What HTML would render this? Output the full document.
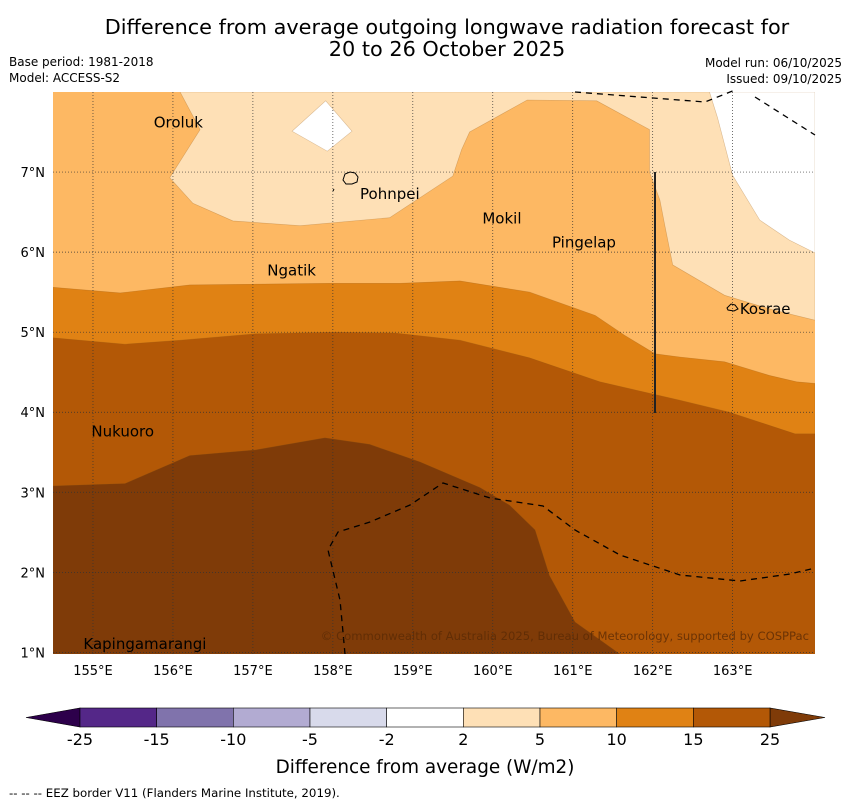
<!DOCTYPE html>
<html><head><meta charset="utf-8"><style>
body{margin:0;background:#fff;font-family:"DejaVu Sans","Liberation Sans",sans-serif}
svg{display:block}
</style></head><body>
<svg id="chart" width="850" height="804" viewBox="0 0 850 804" xmlns="http://www.w3.org/2000/svg" font-family="DejaVu Sans, Liberation Sans, sans-serif">
<defs><clipPath id="plotclip"><rect x="53" y="92" width="762" height="562"/></clipPath></defs>
<text x="447" y="34" text-anchor="middle" font-size="20.8">Difference from average outgoing longwave radiation forecast for</text>
<text x="447" y="56" text-anchor="middle" font-size="20.8">20 to 26 October 2025</text>
<text x="9" y="66" font-size="12">Base period: 1981-2018</text>
<text x="9" y="82" font-size="12">Model: ACCESS-S2</text>
<text x="842" y="67" font-size="12" text-anchor="end">Model run: 06/10/2025</text>
<text x="842" y="83" font-size="12" text-anchor="end">Issued: 09/10/2025</text>
<g id="plot" clip-path="url(#plotclip)"></g>
<g id="overlay"></g>
<g id="axes"></g>
<g id="cbar"></g>
<text x="425" y="773" text-anchor="middle" font-size="18.4">Difference from average (W/m2)</text>
<text x="9" y="797" font-size="11.8">--  --  -- EEZ border V11 (Flanders Marine Institute, 2019).</text>
</svg>
<script>
// Contour boundaries in lon/lat
const lon0=154.5, lon1=164.03, lat0=0.98, lat1=8.0;
const lonTicks=[155,156,157,158,159,160,161,162,163];
const latTicks=[1,2,3,4,5,6,7];
const cbarLevels=["-25","-15","-10","-5","-2","2","5","10","15","25"];
const cbarColors=["#542788","#8073ac","#b2abd2","#d8daeb","#ffffff","#fee0b6","#fdb863","#e08214","#b35806"];
const level5=[[156.09,8.0],[156.34,7.53],[155.96,6.93],[156.25,6.61],[156.75,6.39],[157.59,6.33],[158.71,6.43],[159.5,6.95],[159.61,7.28],[159.71,7.5],[160.43,7.9],[161.3,7.89],[161.96,7.53],[161.96,7.0],[162.09,6.65],[162.15,6.34],[162.25,5.84],[162.9,5.46],[163.5,5.28],[164.03,5.15],[164.03,8.0]];
const level2a=[[162.71,8.0],[162.81,7.68],[163.0,6.96],[163.34,6.4],[163.71,6.15],[164.03,5.99],[164.03,8.0]];
const level2b=[[157.49,7.51],[157.91,7.89],[158.24,7.51],[157.93,7.26]];
const level10=[[154.5,5.56],[155.34,5.49],[156.21,5.59],[157.96,5.61],[158.84,5.61],[159.59,5.64],[160.46,5.5],[161.28,5.21],[161.65,4.96],[162.03,4.73],[162.34,4.69],[162.9,4.63],[163.46,4.46],[163.8,4.38],[164.03,4.36],[164.03,0.98],[154.5,0.98]];
const level15=[[154.5,4.93],[155.4,4.85],[156.09,4.9],[157.03,4.98],[158.03,5.0],[158.78,4.99],[159.59,4.9],[160.46,4.68],[161.34,4.38],[162.34,4.15],[162.96,4.0],[163.78,3.73],[164.03,3.73],[164.03,0.98],[154.5,0.98]];
const level25=[[154.5,3.08],[155.4,3.11],[156.21,3.46],[157.03,3.53],[157.9,3.68],[158.46,3.6],[159.09,3.38],[159.84,3.06],[160.21,2.84],[160.53,2.53],[160.71,1.96],[161.03,1.38],[161.59,0.98],[154.5,0.98]];
const islands=[["Oroluk",155.76,7.63],["Pohnpei",158.34,6.74],["Mokil",159.87,6.43],["Pingelap",160.74,6.13],["Ngatik",157.18,5.78],["Kosrae",163.09,5.3],["Nukuoro",154.98,3.77],["Kapingamarangi",154.88,1.12]];

const NS="http://www.w3.org/2000/svg";
const X=l=>53+(l-lon0)/(lon1-lon0)*762;
const Y=l=>654-(l-lat0)/(lat1-lat0)*562;
function mk(tag,attrs,parent){const e=document.createElementNS(NS,tag);for(const k in attrs)e.setAttribute(k,attrs[k]);parent.appendChild(e);return e;}
const plot=document.getElementById('plot'),ov=document.getElementById('overlay'),axes=document.getElementById('axes'),cb=document.getElementById('cbar');
const pts=a=>a.map(p=>X(p[0]).toFixed(1)+','+Y(p[1]).toFixed(1)).join(' ');

let bg=mk('rect',{x:53,y:92,width:762,height:562,fill:'#fdb863'},plot);


const bands=[[level5,'#fee0b6','band-2-5'],[level2a,'#ffffff','band-white-east'],[level2b,'#ffffff','band-white-north'],[level10,'#e08214','band-10-15'],[level15,'#b35806','band-15-25'],[level25,'#7f3b08','band-over-25']];
bands.forEach(b=>{
  const p=mk('polygon',{points:pts(b[0]),fill:b[1],stroke:'rgba(150,90,20,0.35)','stroke-width':0.6},plot);
  
  
});
lonTicks.forEach(l=>{
  const g=mk('line',{x1:X(l),x2:X(l),y1:92,y2:654,stroke:'#333','stroke-width':0.7,'stroke-dasharray':'1,2'},plot);
  
  
  const t=mk('text',{x:X(l),y:675,'text-anchor':'middle','font-size':13},axes);t.textContent=l+'°E';
  
  
});
latTicks.forEach(l=>{
  const g=mk('line',{x1:53,x2:815,y1:Y(l),y2:Y(l),stroke:'#333','stroke-width':0.7,'stroke-dasharray':'1,2'},plot);
  
  
  const t=mk('text',{x:45,y:Y(l)+5,'text-anchor':'end','font-size':13},axes);t.textContent=l+'°N';
  
  
});
[["M575,92 L705,102 L735,90","eez-border-north"],["M755,97 L815,135","eez-border-northeast"],["M345,654 L340,600 L328,550 L338,532 L370,522 L410,505 L443,483 L490,498 L543,506 L575,530 L620,555 L680,575 L740,581 L790,574 L815,568","eez-border-south"]].forEach(d=>{
  const p=mk('path',{d:d[0],fill:'none',stroke:'#000','stroke-width':1.3,'stroke-dasharray':'6,5'},ov);
  
  
});
const sl=mk('line',{x1:655,x2:655,y1:172,y2:413,stroke:'#222','stroke-width':2},ov);


[["M343,180 l2,-6 l5,-2 l5,1 l3,4 l-1,5 l-5,2 l-6,0 z M333,191 l1,-2","pohnpei-outline"],["M727,308 l4,-4 l4,1 l3,4 l-4,2 l-6,-1 z","kosrae-outline"]].forEach(d=>{
  const p=mk('path',{d:d[0],fill:'none',stroke:'#000','stroke-width':1},ov);
  
  
});
islands.forEach(i=>{
  const t=mk('text',{x:X(i[1]),y:Y(i[2])+6,'font-size':15},ov);t.textContent=i[0];
  
  
});
const cp=mk('text',{x:809,y:640,'text-anchor':'end','font-size':11.6,fill:'#5a2a05','fill-opacity':0.8},ov);
cp.textContent='© Commonwealth of Australia 2025, Bureau of Meteorology, supported by COSPPac';


const cx0=80,cx1=770,cy=708,ch=19,sw=(cx1-cx0)/cbarColors.length;
const la=mk('polygon',{points:`26,${cy+ch/2} ${cx0},${cy} ${cx0},${cy+ch}`,fill:'#2d004b',stroke:'#000','stroke-width':0.6},cb);


const ra=mk('polygon',{points:`825,${cy+ch/2} ${cx1},${cy} ${cx1},${cy+ch}`,fill:'#7f3b08',stroke:'#000','stroke-width':0.6},cb);


cbarColors.forEach((c,i)=>{
  const r=mk('rect',{x:cx0+i*sw,y:cy,width:sw,height:ch,fill:c,stroke:'#000','stroke-width':0.6},cb);
  
  
});
cbarLevels.forEach((v,i)=>{
  const t=mk('text',{x:cx0+i*sw,y:745,'text-anchor':'middle','font-size':16},cb);t.textContent=v;
  
  
});
</script>
</body></html>
